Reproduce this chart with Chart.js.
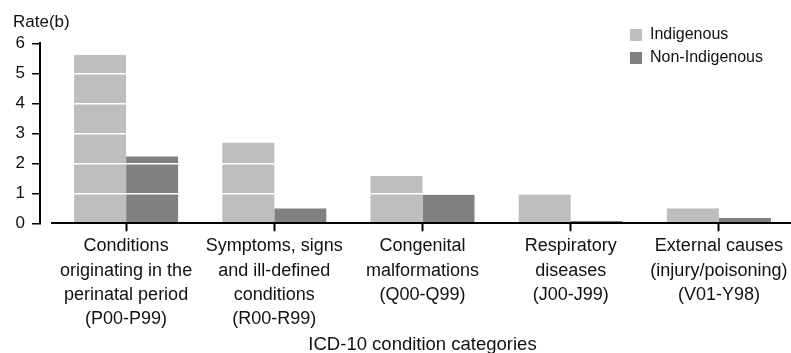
<!DOCTYPE html>
<html><head><meta charset="utf-8">
<script src="https://cdn.jsdelivr.net/npm/chart.js@4/dist/chart.umd.min.js"></script>
<style>html,body{margin:0;padding:0;background:#fff;overflow:hidden}#wrap{width:791px;height:353px;position:relative}</style>
</head><body><div id="wrap"><canvas id="c" width="791" height="353"></canvas></div>
<script>
const categories = [
  ["Conditions", "originating in the", "perinatal period", "(P00-P99)"],
  ["Symptoms, signs", "and ill-defined", "conditions", "(R00-R99)"],
  ["Congenital", "malformations", "(Q00-Q99)"],
  ["Respiratory", "diseases", "(J00-J99)"],
  ["External causes", "(injury/poisoning)", "(V01-Y98)"]
];
const seriesNames = ["Indigenous", "Non-Indigenous"];
const indigenous = [5.61, 2.69, 1.58, 0.97, 0.49];
const nonIndigenous = [2.23, 0.49, 0.95, 0.08, 0.18];
const yTicks = [0, 1, 2, 3, 4, 5, 6];
const yTitle = "Rate(b)";
const xTitle = "ICD-10 condition categories";

const FAMILY = "'Liberation Sans', Arial, sans-serif";
const TXT = '#111';

const layoutTweak = {
  id: 'layoutTweak',
  afterLayout(chart) {
    const x = chart.scales.x;
    x.left = chart.chartArea.left + 12;
    x.right = chart.chartArea.right + 2;
    x.width = x.right - x.left;
    x.configure();
    x._gridLineItems = null; x._labelItems = null;
    const lg = chart.legend;
    if (lg) {
      lg.left = 623; lg.right = lg.left + lg.width;
      lg.top = 20; lg.bottom = lg.top + lg.height;
    }
  }
};

new Chart(document.getElementById('c'), {
  type: 'bar',
  data: {
    labels: categories,
    datasets: [
      { label: seriesNames[0], data: indigenous, backgroundColor: '#bebebe', borderWidth: 0 },
      { label: seriesNames[1], data: nonIndigenous, backgroundColor: '#808080', borderWidth: 0 }
    ]
  },
  options: {
    responsive: false,
    devicePixelRatio: 1,
    animation: false,
    categoryPercentage: 0.702,
    barPercentage: 1,
    layout: { padding: { left: 13, top: 12, right: 0, bottom: 0 } },
    plugins: {
      tooltip: { enabled: false },
      title: {
        display: true, text: yTitle, align: 'start', color: TXT,
        font: { family: FAMILY, size: 17, weight: 'normal', lineHeight: 1.2 },
        padding: { top: 0, bottom: 11 }
      },
      legend: {
        display: true, position: 'chartArea', align: 'start',
        labels: {
          boxWidth: 12, boxHeight: 12, padding: 7, color: TXT,
          font: { family: FAMILY, size: 16 }
        }
      }
    },
    scales: {
      x: {
        offset: true,
        grid: { display: true, drawOnChartArea: false, offset: false, tickLength: 8, tickColor: '#000', tickWidth: 2 },
        border: { display: true, color: '#000', width: 2, z: 2 },
        ticks: { color: TXT, padding: 3, maxRotation: 0, autoSkip: false,
          font: { family: FAMILY, size: 18, lineHeight: 1.35 } },
        title: { display: true, text: xTitle, color: TXT,
          font: { family: FAMILY, size: 18.5, lineHeight: 1 }, padding: { top: 1, bottom: -1 } }
      },
      y: {
        min: 0, max: 6,
        afterBuildTicks: (s) => { s.ticks = yTicks.map(v => ({ value: v })); },
        afterFit: (s) => { s.width = 27; },
        grid: {
          z: 1,
          color: (ctx) => (ctx.tick && ctx.tick.value > 0 && ctx.tick.value < 6) ? '#ffffff' : 'rgba(0,0,0,0)',
          lineWidth: 1.5, tickLength: 8, tickColor: '#000', tickWidth: 1.5
        },
        border: { display: true, color: '#000', width: 2, z: 2 },
        ticks: { color: TXT, padding: 7, font: { family: FAMILY, size: 17 } }
      }
    }
  },
  plugins: [layoutTweak]
});
</script></body></html>
